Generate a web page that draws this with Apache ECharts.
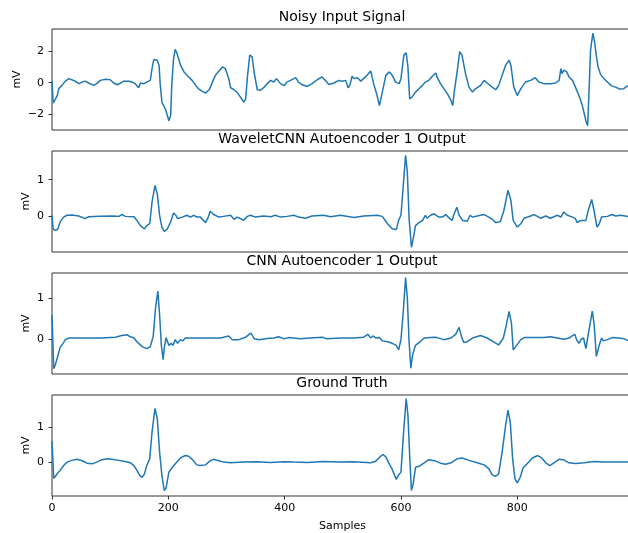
<!DOCTYPE html>
<html>
<head>
<meta charset="utf-8">
<script src="https://cdn.jsdelivr.net/npm/echarts@6/dist/echarts.min.js"></script>
<style>
  html, body { margin: 0; padding: 0; background: #fff; }
  #chart { width: 628px; height: 533px; }
</style>
</head>
<body>
<div id="chart"></div>
<script>
// Panel titles and shared axis text
const panelTitles = ['Noisy Input Signal', 'WaveletCNN Autoencoder 1 Output', 'CNN Autoencoder 1 Output', 'Ground Truth'];
const xTicks = [0, 200, 400, 600, 800];
const yTicks = [[-2, 0, 2], [0, 1], [0, 1], [0, 1]];

// [sample, mV] pairs for each trace
const noisy = [[0,0.1],[2,-1.3],[3,-1.25],[6,-1.03],[9,-0.82],[11.5,-0.39],[17,-0.17],[23,0.1],[29,0.26],[34,0.19],[40,0.1],[46,-0.06],[52,0.04],[57,0.1],[63,-0.02],[72,-0.17],[77,-0.06],[83,0.15],[92,0.22],[100,0.19],[106,-0.02],[112,-0.13],[118,-0.02],[123,0.1],[132,0.09],[138,0.04],[143,-0.06],[149,-0.32],[152,-0.02],[158,-0.06],[163,0.04],[169,0.15],[172,0.9],[175,1.48],[181,1.44],[184,1.12],[186,-0.06],[189,-1.25],[195,-1.68],[201,-2.43],[204,-2.1],[206,-0.06],[209,1.55],[212,2.13],[215,1.87],[221,1.12],[227,0.69],[235,0.37],[241,0.15],[247,-0.17],[252,-0.39],[258,-0.54],[264,-0.67],[270,-0.45],[272,-0.32],[277,0.15],[281,0.47],[287,0.75],[293,1.01],[298,0.9],[304,0.26],[307,-0.32],[313,-0.45],[318,-0.6],[324,-0.92],[330,-1.25],[333,-1.03],[336,0.37],[340,1.76],[344,1.66],[348,0.58],[353,-0.45],[358,-0.49],[364,-0.32],[370,-0.06],[376,0.15],[381,0.04],[386,0.26],[393,-0.06],[399,-0.19],[404,0.04],[410,0.15],[419,0.32],[424,0.04],[430,-0.13],[439,-0.24],[447,-0.06],[456,0.19],[464,0.37],[470,0.15],[476,-0.11],[485,-0.02],[493,0.15],[499,0.09],[505,0.15],[509,-0.32],[512,-0.17],[516,0.41],[519,0.26],[525,0.32],[531,0.1],[539,0.37],[548,0.75],[553,-0.06],[559,-0.82],[563,-1.46],[568,-0.6],[574,0.47],[580,0.69],[585,0.47],[591,0.04],[597,-0.06],[600,0.26],[605,1.76],[609,1.91],[612,1.01],[615,-1.03],[619,-0.92],[625,-0.6],[631,-0.39],[637,-0.17],[642,0.04],[648,0.15],[654,0.41],[660,0.62],[662,0.37],[668,-0.06],[674,-0.39],[680,-0.71],[686,-1.14],[689,-1.46],[692,-0.49],[697,0.8],[701,1.98],[705,1.76],[711,0.58],[717,-0.28],[723,-0.6],[728,-0.39],[737,-0.17],[743,0.15],[748,-0.02],[757,-0.28],[763,-0.45],[768,-0.17],[774,0.47],[780,1.12],[786,1.44],[789,1.12],[794,-0.28],[800,-0.82],[806,-0.39],[814,0.04],[823,0.15],[831,0.32],[837,0.04],[846,-0.06],[857,-0.06],[866,-0.02],[872,0.15],[875,0.9],[877,0.58],[880,0.8],[885,0.69],[889,0.37],[895,0.15],[900,-0.28],[906,-0.82],[912,-1.46],[918,-2.43],[921,-2.75],[923,-0.92],[926,2.09],[930,3.16],[933,2.6],[936,1.7],[939,1.0],[943,0.55],[948,0.3],[955,0.05],[962,-0.2],[970,-0.3],[976,-0.4],[983,-0.38],[989,-0.22],[995,-0.2],[999,-0.15]];

const waveletOut = [[0,0.03],[2,-0.35],[6,-0.38],[10,-0.35],[14,-0.15],[20,-0.02],[26,0.03],[34,0.04],[46,0.01],[57,-0.06],[63,-0.01],[83,0],[106,0.01],[115,0],[120,0.05],[126,0],[141,-0.01],[146,-0.11],[152,-0.25],[159,-0.34],[163,-0.25],[168,-0.2],[172,0.39],[177,0.84],[181,0.62],[185,0.03],[189,-0.29],[193,-0.41],[198,-0.35],[204,-0.15],[209,0.09],[213,0.03],[216,-0.06],[224,-0.02],[232,0.03],[238,-0.02],[244,0.03],[249,-0.02],[255,-0.02],[264,-0.17],[268,-0.05],[272,0.14],[278,0.05],[287,-0.02],[295,0],[307,0.03],[313,-0.08],[318,-0.02],[323,-0.05],[329,-0.11],[336,0],[341,0.03],[350,-0.02],[364,0.01],[376,-0.01],[384,0.03],[393,-0.02],[404,0],[416,0.03],[424,-0.02],[436,-0.05],[447,0.01],[467,0.03],[479,-0.01],[496,0.03],[519,-0.03],[536,0.01],[559,0.03],[568,0],[577,-0.2],[585,-0.34],[592,-0.36],[596,-0.11],[600,0.03],[604,0.84],[608,1.66],[611,1.21],[614,-0.06],[618,-0.84],[621,-0.61],[625,-0.25],[631,-0.17],[637,-0.11],[642,0.03],[645,-0.05],[651,0.03],[657,0.07],[665,-0.02],[671,-0.02],[677,0.05],[683,-0.05],[688,-0.11],[691,0.05],[696,0.25],[700,0.03],[706,-0.11],[714,-0.13],[719,0.03],[723,-0.02],[731,0.01],[743,0.05],[751,-0.02],[757,-0.08],[763,-0.17],[771,-0.14],[777,0.16],[784,0.71],[789,0.44],[793,-0.11],[800,-0.29],[806,-0.2],[812,-0.05],[823,0.01],[829,0.05],[840,-0.05],[849,0.01],[857,-0.05],[869,0.03],[875,-0.02],[880,0.12],[886,0.03],[895,-0.02],[900,-0.06],[903,-0.17],[909,-0.11],[918,-0.11],[922,0.16],[928,0.46],[932,0.16],[937,-0.29],[941,-0.2],[945,-0.02],[955,0],[963,0.05],[969,0.01],[978,0.03],[992,-0.01],[999,0]];

const cnnOut = [[0,0.58],[3,-0.73],[6,-0.62],[9,-0.47],[11,-0.43],[14,-0.21],[19,-0.11],[23,-0.02],[29,0.02],[54,0.02],[83,0.02],[109,0.04],[120,0.08],[129,0.1],[135,0.05],[141,0.02],[146,-0.07],[155,-0.19],[163,-0.24],[169,-0.19],[174,0.06],[178,0.75],[182,1.17],[185,0.59],[188,-0.15],[191,-0.51],[193,-0.23],[196,0.03],[201,-0.16],[205,-0.11],[208,-0.16],[212,-0.02],[216,-0.11],[221,-0.02],[225,-0.05],[229,0.02],[255,0.02],[290,0.02],[304,0.07],[310,-0.02],[321,-0.02],[333,0.04],[342,0.14],[348,0],[356,-0.02],[370,0.01],[381,0.02],[390,0.05],[399,0],[407,0.03],[416,0.02],[427,0],[444,0.02],[465,0.04],[473,0],[496,0.02],[519,0.02],[536,0.04],[543,0.11],[548,0.02],[552,0.07],[557,0.02],[563,0.03],[568,-0.05],[577,-0.07],[585,-0.11],[592,-0.16],[596,-0.27],[600,-0.02],[604,0.67],[608,1.5],[611,0.99],[614,-0.07],[617,-0.72],[620,-0.39],[625,-0.16],[628,-0.19],[633,-0.07],[640,0.02],[657,0.04],[662,0.03],[674,-0.02],[686,0.02],[694,0.11],[700,0.28],[704,0.06],[708,-0.09],[714,-0.07],[723,0.02],[737,0.08],[748,0.02],[760,-0.08],[768,-0.15],[776,0.02],[780,0.26],[786,0.67],[790,0.38],[793,-0.27],[799,-0.16],[806,-0.02],[812,0.03],[846,0.03],[857,0.05],[869,0.02],[880,-0.01],[889,0.02],[895,0.08],[899,0.11],[902,-0.02],[906,-0.11],[910,-0.01],[914,0.02],[918,-0.24],[922,0.1],[929,0.68],[932,0.38],[936,-0.43],[941,-0.15],[945,0.02],[948,-0.05],[955,-0.02],[963,0.03],[975,0.02],[984,0],[992,-0.05],[999,-0.06]];

const groundTruth = [[0,0.6],[3,-0.47],[6,-0.41],[10,-0.31],[14,-0.24],[20,-0.1],[26,0],[34,0.05],[43,0.08],[52,0.04],[60,-0.03],[69,-0.05],[77,0],[86,0.07],[95,0.1],[103,0.08],[115,0.05],[126,0.02],[135,-0.02],[141,-0.1],[146,-0.24],[151,-0.39],[155,-0.44],[159,-0.34],[163,-0.1],[168,0.1],[172,0.87],[177,1.55],[181,1.26],[185,0.29],[189,-0.39],[193,-0.82],[196,-0.76],[201,-0.29],[206,-0.17],[212,-0.05],[221,0.12],[229,0.19],[235,0.17],[241,0.08],[249,-0.08],[255,-0.1],[264,-0.08],[272,0.04],[278,0.08],[287,0.04],[295,0],[307,-0.02],[330,0],[353,0.01],[376,-0.01],[399,0.01],[416,0],[439,-0.01],[467,0.02],[490,0],[519,0.01],[548,-0.02],[556,0.02],[564,0.15],[569,0.22],[574,0.15],[579,-0.02],[585,-0.21],[592,-0.5],[596,-0.37],[600,-0.29],[605,0.97],[609,1.84],[612,1.36],[615,0.19],[618,-0.82],[621,-0.63],[625,-0.15],[631,-0.12],[640,-0.02],[648,0.07],[660,0.03],[668,-0.03],[677,-0.06],[686,-0.02],[697,0.1],[705,0.12],[717,0.05],[731,-0.02],[743,-0.08],[751,-0.19],[757,-0.37],[763,-0.41],[768,-0.34],[774,0.29],[780,1.07],[784,1.5],[788,1.16],[792,0.1],[796,-0.48],[800,-0.6],[805,-0.44],[810,-0.17],[817,-0.05],[826,0.12],[835,0.19],[842,0.12],[849,-0.02],[856,-0.1],[863,-0.02],[872,0.08],[879,0.07],[889,-0.02],[900,-0.04],[915,-0.02],[932,0.02],[949,0],[972,0],[999,0]];

const traces = [noisy, waveletOut, cnnOut, groundTruth];
const yLimits = [[-3.02, 3.43], [-0.97, 1.78], [-0.86, 1.61], [-0.98, 1.94]];

// Panel geometry (pixels)
const panelTops = [29, 151, 273, 395];
const panelHeight = 101;
const panelLeft = 52;
const panelRight = -5;
const titleX = 342;
const font = 'DejaVu Sans';
const ink = '#000';
const spine = '#333';
const lineColor = '#1f77b4';

const fmt = v => (v < 0 ? '\u2212' + Math.abs(v) : String(v));

const grids = [], xAxes = [], yAxes = [], series = [], titles = [];
traces.forEach((data, i) => {
  const last = i === traces.length - 1;
  grids.push({
    left: panelLeft, right: panelRight, top: panelTops[i], height: panelHeight,
    containLabel: false, outerBoundsMode: 'none',
    show: true, borderColor: spine, borderWidth: 1, backgroundColor: 'transparent'
  });
  xAxes.push({
    type: 'value', gridIndex: i, min: 0, max: 999, position: 'bottom',
    axisLine: { show: false, onZero: false },
    splitLine: { show: false },
    axisTick: { show: last, length: 3.5, lineStyle: { color: spine }, customValues: xTicks },
    axisLabel: { show: last, color: ink, fontSize: 11, fontFamily: font, margin: 7, customValues: xTicks },
    name: last ? 'Samples' : '', nameLocation: 'middle', nameGap: 25, nameMoveOverlap: false,
    nameTextStyle: { color: ink, fontSize: 11, fontFamily: font }
  });
  yAxes.push({
    type: 'value', gridIndex: i, min: yLimits[i][0], max: yLimits[i][1],
    axisLine: { show: false, onZero: false },
    splitLine: { show: false },
    axisTick: { show: true, length: 3.5, lineStyle: { color: spine }, customValues: yTicks[i] },
    axisLabel: { color: ink, fontSize: 11, fontFamily: font, margin: 8, customValues: yTicks[i], formatter: fmt },
    name: 'mV', nameLocation: 'middle', nameRotate: 90, nameGap: i === 0 ? 29 : 20, nameMoveOverlap: false,
    nameTextStyle: { color: ink, fontSize: 11, fontFamily: font }
  });
  series.push({
    type: 'line', xAxisIndex: i, yAxisIndex: i, data: data,
    showSymbol: false, clip: true, smooth: false,
    lineStyle: { color: lineColor, width: 1.5 }
  });
  titles.push({
    text: panelTitles[i], left: titleX, top: panelTops[i] - 19, textAlign: 'center', padding: 0,
    textStyle: { color: ink, fontSize: 14, fontWeight: 'normal', fontFamily: font }
  });
});

const chart = echarts.init(document.getElementById('chart'), null, { renderer: 'canvas' });
chart.setOption({
  animation: false,
  backgroundColor: '#fff',
  title: titles,
  grid: grids,
  xAxis: xAxes,
  yAxis: yAxes,
  series: series
});
</script>
</body>
</html>
